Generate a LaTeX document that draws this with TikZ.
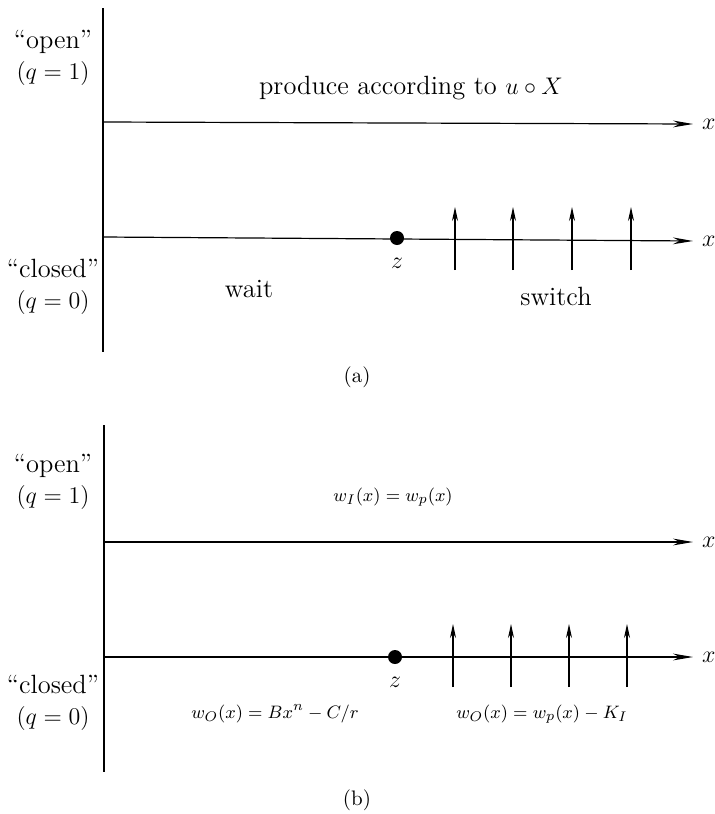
\documentclass[tikz,border=0pt]{standalone}
\usetikzlibrary{arrows.meta,positioning}
\tikzset{
  statefig/.style={font=\fontsize{13.2}{15.5}\selectfont, align=center},
  wfig/.style={font=\fontsize{9.5}{11}\selectfont},
  capfig/.style={font=\fontsize{10.5}{12}\selectfont},
  axis/.style={semithick, -{Stealth[length=10pt, width=3.4pt]}},
  vaxis/.style={thick},
  tick/.style={semithick, -{Stealth[length=7pt, width=3pt]}},
  zdot/.style={circle, fill=black, inner sep=0pt, minimum size=7pt},
}

\begin{document}
\begin{tikzpicture}[x=0.5pt, y=-0.5pt]
  \useasboundingbox (0,0) rectangle (715,814);

  % ---- (a) ----
  \coordinate (aTop) at (103,8);
  \coordinate (aBot) at (103,352);
  \draw[vaxis] (aTop) -- (aBot);

  \coordinate (aOpenL) at (103,122);
  \coordinate (aOpenR) at (693,124);
  \draw[axis] (aOpenL) -- (aOpenR);
  \node[statefig, right=1pt of aOpenR] (aOpenX) {$x$};

  \coordinate (aClosedL) at (103,237);
  \coordinate (aClosedR) at (693,241);
  \draw[axis] (aClosedL) -- (aClosedR);
  \node[statefig, right=1pt of aClosedR] (aClosedX) {$x$};

  \node[zdot] (aZ) at (397,238) {};
  \node[statefig, below=3pt of aZ] (aZlbl) {$z$};

  \foreach \xx [count=\i] in {455,513,572,631} {
    \coordinate (aS\i) at (\xx,270);
    \coordinate (aE\i) at (\xx,207);
    \draw[tick] (aS\i) -- (aE\i);
  }

  \node[statefig] (aOpen) at (53,58) {``open''\\$(q=1)$};
  \node[statefig] (aClosed) at (53,287) {``closed''\\$(q=0)$};

  \node[statefig] (produce) at (411,88) {produce according to $u\circ X$};
  \node[statefig] (wait) at (249,289) {wait};
  \node[statefig] (switch) at (556,296) {switch};

  \node[capfig] (capA) at (357,377) {(a)};

  % ---- (b) ----
  \coordinate (bTop) at (104,425);
  \coordinate (bBot) at (104,772);
  \draw[vaxis] (bTop) -- (bBot);

  \coordinate (bOpenL) at (104,542);
  \coordinate (bOpenR) at (693,542);
  \draw[axis] (bOpenL) -- (bOpenR);
  \node[statefig, right=1pt of bOpenR] (bOpenX) {$x$};

  \coordinate (bClosedL) at (104,657);
  \coordinate (bClosedR) at (693,657);
  \draw[axis] (bClosedL) -- (bClosedR);
  \node[statefig, right=1pt of bClosedR] (bClosedX) {$x$};

  \node[zdot] (bZ) at (395,657) {};
  \node[statefig, below=3pt of bZ] (bZlbl) {$z$};

  \foreach \xx [count=\i] in {453,511,569,627} {
    \coordinate (bS\i) at (\xx,687);
    \coordinate (bE\i) at (\xx,624);
    \draw[tick] (bS\i) -- (bE\i);
  }

  \node[statefig] (bOpen) at (53,482) {``open''\\$(q=1)$};
  \node[statefig] (bClosed) at (53,703) {``closed''\\$(q=0)$};

  \node[wfig] (wI) at (393,497) {$w_I(x)=w_p(x)$};
  \node[wfig] (wOleft) at (275,714) {$w_O(x)=Bx^n-C/r$};
  \node[wfig] (wOright) at (542,714) {$w_O(x)=w_p(x)-K_I$};

  \node[capfig] (capB) at (357,800) {(b)};

\end{tikzpicture}
\end{document}
